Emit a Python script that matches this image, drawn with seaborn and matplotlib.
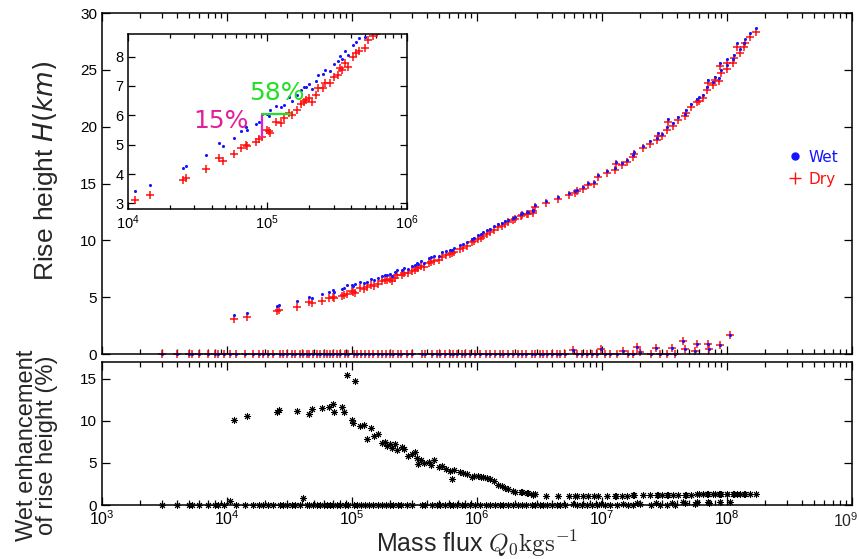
import matplotlib
matplotlib.use("Agg")
import numpy as np
import pandas as pd
import matplotlib.pyplot as plt
import matplotlib.transforms as mtransforms
import seaborn as sns
from matplotlib import font_manager
from matplotlib.lines import Line2D
from matplotlib.ticker import (LogLocator, NullFormatter, FixedLocator,
                               FuncFormatter, LogFormatterSciNotation)

# Plumes on the rising branch: mass flux (kg/s), dry rise height (km),
# and wet enhancement of the rise height (%)
flux = [1.13e4, 1.45e4, 2.5e4, 2.6e4, 3.65e4, 4.5e4, 4.8e4, 5.8e4, 6.5e4, 7.0e4,
        7.2e4, 8.3e4, 8.7e4, 9.2e4, 1.0e5, 1.02e5, 1.05e5, 1.16e5, 1.25e5, 1.32e5,
        1.42e5, 1.5e5, 1.62e5, 1.75e5, 1.84e5, 1.9e5, 2.0e5, 2.1e5, 2.23e5, 2.3e5,
        2.5e5, 2.6e5, 2.8e5, 3.0e5, 3.2e5, 3.3e5, 3.4e5, 3.6e5, 3.75e5, 4.1e5,
        4.3e5, 4.5e5, 5.0e5, 5.3e5, 5.7e5, 6.1e5, 6.3e5, 6.5e5, 7.3e5, 7.8e5,
        8.3e5, 9.1e5, 9.5e5, 1.02e6, 1.07e6, 1.12e6, 1.2e6, 1.27e6, 1.38e6, 1.48e6,
        1.58e6, 1.67e6, 1.78e6, 1.94e6, 2.0e6, 2.24e6, 2.28e6, 2.52e6, 2.58e6, 2.79e6,
        2.83e6, 2.9e6, 3.6e6, 4.45e6, 5.4e6, 6.1e6, 6.3e6, 7.0e6, 7.8e6, 8.7e6,
        9.25e6, 1.1e7, 1.27e7, 1.3e7, 1.44e7, 1.58e7, 1.78e7, 1.82e7, 2.14e7, 2.42e7,
        2.75e7, 2.8e7, 3.0e7, 3.3e7, 3.4e7, 3.7e7, 4.07e7, 4.6e7, 4.7e7, 5.2e7,
        5.8e7, 6.0e7, 6.4e7, 6.9e7, 7.0e7, 7.8e7, 8.0e7, 8.6e7, 8.8e7, 8.9e7,
        9.95e7, 1.0e8, 1.11e8, 1.13e8, 1.2e8, 1.26e8, 1.38e8, 1.4e8, 1.53e8, 1.7e8]
dry_height = [3.11, 3.28, 3.80, 3.85, 4.17, 4.55, 4.45, 4.70, 4.89, 5.00,
              4.95, 5.10, 5.21, 5.25, 5.50, 5.45, 5.40, 5.78, 5.73, 5.90,
              6.07, 6.00, 6.18, 6.40, 6.47, 6.52, 6.58, 6.46, 6.69, 6.92,
              6.92, 7.09, 7.09, 7.30, 7.38, 7.60, 7.55, 7.77, 7.66, 8.00,
              8.11, 8.20, 8.29, 8.57, 8.70, 8.80, 8.89, 8.95, 9.24, 9.35,
              9.47, 9.82, 9.90, 10.1, 10.2, 10.4, 10.55, 10.7, 10.95, 11.2,
              11.3, 11.45, 11.6, 11.8, 11.9, 12.1, 12.2, 12.3, 12.35, 12.45,
              12.56, 12.9, 13.3, 13.65, 14.0, 14.2, 14.3, 14.5, 14.9, 15.0,
              15.6, 15.9, 16.2, 16.7, 16.6, 16.9, 17.3, 17.6, 18.1, 18.5,
              18.8, 19.2, 19.15, 19.7, 20.4, 20.1, 20.6, 20.9, 21.2, 21.7,
              22.15, 22.3, 22.5, 23.2, 23.8, 23.65, 24.1, 24.0, 25.3, 24.7,
              25.1, 25.6, 25.6, 26.0, 27.0, 26.5, 27.0, 27.4, 27.85, 28.3]
wet_gain = [10.1, 10.6, 11.1, 11.3, 11.2, 10.8, 11.45, 11.5, 11.65, 12.0,
            11.0, 11.7, 11.05, 15.4, 10.1, 9.7, 14.7, 9.4, 9.55, 7.9,
            9.1, 8.2, 8.5, 7.4, 7.5, 7.0, 7.3, 6.8, 7.3, 6.5,
            6.9, 6.6, 5.8, 6.1, 6.3, 5.6, 4.9, 5.4, 5.0, 5.1,
            4.8, 5.3, 4.5, 4.6, 4.3, 4.1, 3.1, 4.2, 3.9, 3.8,
            3.7, 3.3, 3.5, 3.5, 3.3, 3.3, 3.2, 3.1, 2.8, 2.4,
            2.2, 2.0, 1.9, 1.7, 1.6, 1.5, 1.5, 1.4, 1.4, 1.25,
            1.2, 1.3, 1.1, 1.1, 1.1, 1.1, 1.1, 1.1, 1.1, 1.1,
            1.05, 1.05, 1.1, 1.1, 1.1, 1.1, 1.15, 1.15, 1.15, 1.2,
            1.2, 1.2, 1.2, 1.2, 1.2, 1.2, 1.2, 1.2, 1.2, 1.2,
            1.25, 1.25, 1.25, 1.25, 1.25, 1.25, 1.25, 1.25, 1.25, 1.25,
            1.3, 1.3, 1.3, 1.3, 1.3, 1.3, 1.3, 1.3, 1.3, 1.3]

# Plumes on the collapsing branch: mass flux (kg/s), rise height (km), enhancement (%)
low_flux = [3.0e3, 4.0e3, 5.0e3, 5.3e3, 6.0e3, 7.0e3, 8.0e3, 8.5e3, 9.5e3, 1.06e4,
            1.19e4, 1.39e4, 1.63e4, 1.82e4, 1.95e4, 2.14e4, 2.35e4, 2.65e4, 2.79e4, 3.0e4,
            3.29e4, 3.5e4, 3.84e4, 4.08e4, 4.34e4, 4.56e4, 4.91e4, 5.21e4, 5.55e4, 5.97e4,
            6.27e4, 6.67e4, 7.1e4, 7.64e4, 8.02e4, 8.79e4, 9.35e4, 1.03e5, 1.1e5, 1.19e5,
            1.27e5, 1.38e5, 1.48e5, 1.63e5, 1.73e5, 1.87e5, 2.01e5, 2.14e5, 2.35e5, 2.49e5,
            2.74e5, 3.0e5, 3.61e5, 3.84e5, 4.34e5, 4.75e5, 5.06e5, 5.55e5, 6.08e5, 6.47e5,
            6.97e5, 7.53e5, 8.02e5, 8.79e5, 9.64e5, 1.06e6, 1.19e6, 1.27e6, 1.39e6, 1.53e6,
            1.63e6, 1.78e6, 1.95e6, 2.14e6, 2.28e6, 2.49e6, 2.74e6, 2.91e6, 3.19e6, 3.4e6,
            3.61e6, 3.95e6, 4.34e6, 4.61e6, 5.06e6, 5.82e6, 6.27e6, 6.87e6, 7.53e6, 8.26e6,
            9.06e6, 9.75e6, 1.06e7, 1.16e7, 1.31e7, 1.46e7, 1.63e7, 1.76e7, 1.92e7, 2.01e7,
            2.49e7, 2.7e7, 2.91e7, 3.29e7, 3.61e7, 3.84e7, 4.42e7, 4.61e7, 5.55e7, 5.71e7,
            7.1e7, 7.23e7, 8.79e7, 1.05e8]
low_height = [0.0] * 85 + [0.33, 0.0, 0.0, 0.0, 0.0,
                           0.0, 0.41, 0.0, 0.0, 0.0, 0.27, 0.0, 0.0, 0.62, 0.2,
                           0.0, 0.56, 0.0, 0.0, 0.5, 0.0, 1.15, 0.45, 0.3, 0.91,
                           0.85, 0.45, 0.8, 1.65]
low_gain = ([0.0] * 9 + [0.5] + [0.0] * 13 + [0.8] + [0.0] * 61
            + [0.1, 0.0, 0.0, 0.0, 0.0, 0.0, 0.1, 0.0, 0.0, 0.0, 0.1, 0.0, 0.0, 0.2, 0.1,
               0.0, 0.2, 0.0, 0.0, 0.2, 0.0, 0.3, 0.2, 0.1, 0.3, 0.3, 0.2, 0.3, 0.3])

# Mass-flux increase a dry plume needs to match the wet plume height (%)
flux_increase = 58

# Mass-flux axis range (kg/s)
flux_min, flux_max = 1e3, 1e9

rising = pd.DataFrame({"flux": flux, "dry": dry_height, "gain": wet_gain})
rising["wet"] = rising["dry"] * (1 + rising["gain"] / 100)
collapsing = pd.DataFrame({"flux": low_flux, "height": low_height, "gain": low_gain})

sns.set_theme(style="ticks")
names = {f.name for f in font_manager.fontManager.ttflist}
narrow = "Liberation Sans Narrow" if "Liberation Sans Narrow" in names else "Liberation Sans"
plt.rcParams["font.family"] = ["Liberation Sans", "DejaVu Sans"]
plt.rcParams["axes.linewidth"] = 1.1

RED, BLUE = "#ff1010", "#1414ff"
plus_kw = dict(marker="+", s=38, linewidth=1.1, color=RED)
dot_kw = dict(marker="o", s=5, linewidth=0, color=BLUE)

fig = plt.figure(figsize=(8.59, 5.59), dpi=100)
ax_top = fig.add_axes([0.1187, 0.3667, 0.8731, 0.6100])
ax_bot = fig.add_axes([0.1187, 0.0966, 0.8731, 0.2558])
ax_in = fig.add_axes([0.1487, 0.6256, 0.3251, 0.3130])


def style_log_axis(ax, major_len=6, minor_len=3.5):
    ax.set_xscale("log")
    ax.xaxis.set_major_locator(LogLocator(base=10, numticks=20))
    ax.xaxis.set_minor_locator(LogLocator(base=10, subs=np.arange(2, 10), numticks=20))
    ax.xaxis.set_minor_formatter(NullFormatter())
    ax.tick_params(which="both", direction="in", top=True, right=True,
                   colors="black", width=0.9)
    ax.tick_params(which="major", length=major_len)
    ax.tick_params(which="minor", length=minor_len)
    for sp in ax.spines.values():
        sp.set_color("black")


# Rise height, both branches
sns.scatterplot(data=rising, x="flux", y="dry", ax=ax_top, **plus_kw)
sns.scatterplot(data=rising, x="flux", y="wet", ax=ax_top, **dot_kw)
sns.scatterplot(data=collapsing, x="flux", y="height", ax=ax_top, clip_on=False, **plus_kw)
sns.scatterplot(data=collapsing, x="flux", y="height", ax=ax_top, clip_on=False, **dot_kw)
style_log_axis(ax_top)
ax_top.set_xlim(flux_min, flux_max)
ax_top.set_ylim(0, 30)
ax_top.yaxis.set_major_locator(FixedLocator([0, 5, 10, 15, 20, 25, 30]))
ax_top.xaxis.set_major_formatter(NullFormatter())
ax_top.set_xlabel("")
ax_top.set_ylabel("Rise height $H(km)$", fontsize=19, math_fontfamily="dejavusans")
ax_top.yaxis.set_label_coords(-0.056, 0.537)
ax_top.tick_params(axis="y", labelsize=11)

handles = [Line2D([], [], marker="o", color=BLUE, linestyle="none", markersize=5),
           Line2D([], [], marker="+", color=RED, linestyle="none", markersize=9,
                  markeredgewidth=1.0)]
leg = ax_top.legend(handles, ["Wet", "Dry"], loc="center right",
                    bbox_to_anchor=(1.0, 0.545), frameon=False,
                    handletextpad=0.3, handlelength=1.2, labelspacing=0.45,
                    prop={"family": "DejaVu Sans", "size": 11})
for txt, col in zip(leg.get_texts(), [BLUE, RED]):
    txt.set_color(col)

# Zoomed view of the low mass-flux end
ax_in.set_facecolor("white")
sns.scatterplot(data=rising, x="flux", y="dry", ax=ax_in, **plus_kw)
sns.scatterplot(data=rising, x="flux", y="wet", ax=ax_in, **dot_kw)
style_log_axis(ax_in, major_len=5, minor_len=3)
ax_in.set_xlim(1e4, 1e6)
ax_in.set_ylim(2.8, 8.76)
ax_in.yaxis.set_major_locator(FixedLocator([3, 4, 5, 6, 7, 8]))
ax_in.set_xlabel("")
ax_in.set_ylabel("")
ax_in.tick_params(labelsize=10.5, pad=3)

peak = rising.loc[rising["gain"].idxmax()]
ax_in.plot([peak["flux"], peak["flux"]], [peak["dry"], peak["wet"]],
           color="#e020d0", linewidth=1.6)
ax_in.plot([peak["flux"], peak["flux"] * (1 + flux_increase / 100)],
           [peak["wet"], peak["wet"]], color="#22e022", linewidth=1.6)
ax_in.text(peak["flux"] * 0.8, peak["wet"] - 0.25, f"{peak['gain']:.0f}%",
           color="#e0209a", fontsize=18, ha="right", va="center",
           family="DejaVu Sans")
ax_in.text(peak["flux"] * 0.81, peak["wet"] + 0.28, f"{flux_increase}%",
           color="#22e022", fontsize=18, ha="left", va="bottom",
           family="DejaVu Sans")

# Wet enhancement of the rise height
star_kw = dict(marker=(8, 2, 0), s=20, linewidth=0.7, color="black", edgecolor="black")
sns.scatterplot(data=rising, x="flux", y="gain", ax=ax_bot, **star_kw)
sns.scatterplot(data=collapsing, x="flux", y="gain", ax=ax_bot, clip_on=False, **star_kw)
style_log_axis(ax_bot)
ax_bot.set_xlim(flux_min, flux_max)
ax_bot.set_ylim(0, 17)
ax_bot.yaxis.set_major_locator(FixedLocator([0, 5, 10, 15]))
ax_bot.set_ylabel("Wet enhancement\nof rise height (%)", fontsize=17, linespacing=0.9)
ax_bot.yaxis.set_label_coords(-0.058, 0.42)
ax_bot.set_xlabel(r"Mass flux $Q_0\mathrm{kgs}^{-1}$", fontsize=18, labelpad=0,
                  family=narrow, math_fontfamily="cm")
ax_bot.tick_params(axis="y", labelsize=11)
ax_bot.tick_params(axis="x", labelsize=11.5, pad=3)

# decade labels; the last one is set flush against the right edge instead
sci = LogFormatterSciNotation()
ax_bot.xaxis.set_major_formatter(
    FuncFormatter(lambda v, pos: "" if v >= flux_max else sci(v, pos)))
for lab in ax_bot.get_xticklabels():
    lab.set_family(narrow)
edge_tr = mtransforms.blended_transform_factory(ax_bot.transData, ax_bot.transAxes)
ax_bot.text(flux_max, -0.045, f"$\\mathdefault{{10^{{{int(np.log10(flux_max))}}}}}$",
            transform=edge_tr + mtransforms.ScaledTranslation(7 / 100, 0, fig.dpi_scale_trans),
            ha="right", va="top", fontsize=11.5, family=narrow)

fig.savefig("out.png", dpi=100, facecolor="white")
